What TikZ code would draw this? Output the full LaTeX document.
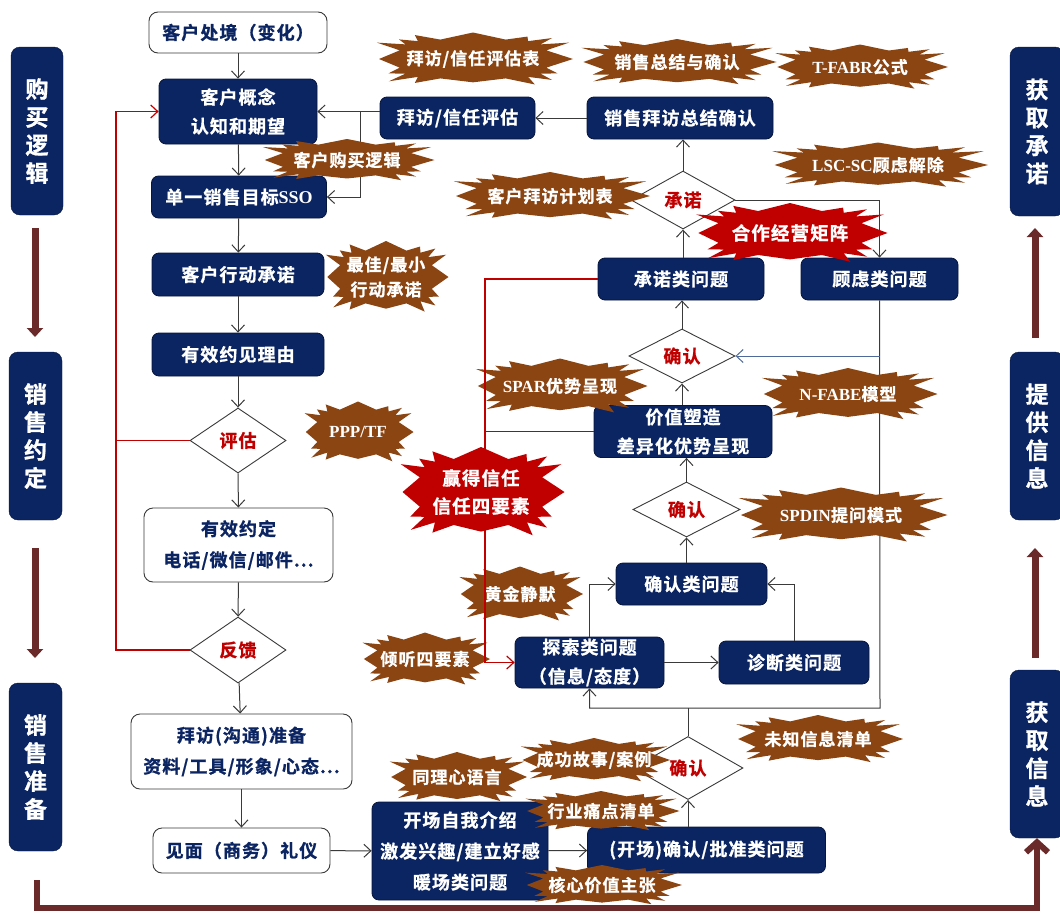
\documentclass[tikz,border=0pt]{standalone}
\usepackage{fontspec}
\setmainfont{Noto Sans CJK SC}[BoldFont={Noto Sans CJK SC Bold}, BoldFeatures={FakeBold=1, LetterSpace=6}]
\newfontfamily\lat{Liberation Serif}
\usetikzlibrary{shapes.geometric,arrows.meta}
\definecolor{navyc}{HTML}{0B2462}
\definecolor{brownc}{HTML}{8B4513}
\definecolor{redc}{HTML}{C00000}
\definecolor{darkr}{HTML}{6B2A2A}
\definecolor{linec}{HTML}{3A3A3A}
\definecolor{bluel}{HTML}{4F6A9A}
\tikzset{
  navybox/.style={draw=navyc!60!black, fill=navyc, rounded corners=7pt, text=white, align=center, inner sep=0pt, line width=0.8pt, font=\bfseries\fontsize{18}{29}\selectfont},
  whitebox/.style={draw=linec, fill=white, rounded corners=9pt, text=navyc, align=center, inner sep=0pt, line width=0.9pt, font=\bfseries\fontsize{18}{31}\selectfont},
  decide/.style={diamond, draw=linec, fill=white, text=redc, inner sep=0pt, line width=0.9pt, font=\bfseries\fontsize{18}{20}\selectfont},
  sidebar/.style={fill=navyc, draw=navyc!60!black, rounded corners=9pt, text=white, align=center, inner sep=0pt, font=\bfseries\fontsize{23}{28}\selectfont},
  bursttext/.style={text=white, align=center, inner sep=0pt, font=\bfseries\fontsize{17}{25}\selectfont},
  redbursttext/.style={bursttext, font=\bfseries\fontsize{18.5}{28}\selectfont},
  conn/.style={draw=linec, line width=1pt, -{Straight Barb[length=7pt,width=13pt]}},
  plain/.style={draw=linec, line width=1pt},
  redconn/.style={draw=redc, line width=1.2pt, -{Straight Barb[length=7pt,width=13pt]}},
  redline/.style={draw=redc, line width=1.2pt},
  blueconn/.style={draw=bluel, line width=1pt, -{Straight Barb[length=7pt,width=13pt]}},
  bigarrow/.style={draw=darkr, line width=7pt, -{Triangle[length=9pt,width=16pt]}},
}
% burst shape: centre (#1,#2), half sizes #3,#4, colour #5
\newcommand\burstfill[5]{%
  \begin{scope}[shift={(#1,#2)}]
  \fill[#5] (#3,0) \foreach \k [evaluate=\k as \ang using \k*11.25,
      evaluate=\k as \fac using {ifthenelse(mod(\k,2)==0, 1-0.06*mod(\k,3), 0.74)}] in {1,...,31}
      { -- ({#3*\fac*cos(\ang)/sqrt(abs(cos(\ang))+0.0001)}, {#4*\fac*sin(\ang)/sqrt(abs(sin(\ang))+0.0001)}) } -- cycle;
  \end{scope}}
\begin{document}
\begin{tikzpicture}[x=1pt,y=-1pt]
\useasboundingbox (0,0) rectangle (1060,913);
% side bars
\node[sidebar, minimum width=52, minimum height=168] (sL1) at (37,131) {购\\买\\逻\\辑};
\node[sidebar, minimum width=53, minimum height=168] (sL2) at (35.5,436) {销\\售\\约\\定};
\node[sidebar, minimum width=53, minimum height=168] (sL3) at (35.5,767) {销\\售\\准\\备};
\node[sidebar, minimum width=54, minimum height=169] (sR1) at (1037,131.5) {获\\取\\承\\诺};
\node[sidebar, minimum width=54, minimum height=168] (sR2) at (1037,436) {提\\供\\信\\息};
\node[sidebar, minimum width=54, minimum height=168] (sR3) at (1037,754) {获\\取\\信\\息};
\coordinate (aL1a) at (35,228); \coordinate (aL1b) at (35,337);
\coordinate (aL2a) at (35,548); \coordinate (aL2b) at (35,658);
\coordinate (aBa) at (37,880); \coordinate (aBb) at (37,908);
\coordinate (aR2a) at (1035,658); \coordinate (aR2b) at (1035,548);
\coordinate (aR1a) at (1035,338); \coordinate (aR1b) at (1035,228);
\draw[bigarrow] (aL1a) -- (aL1b);
\draw[bigarrow] (aL2a) -- (aL2b);
\draw[bigarrow] (aR2a) -- (aR2b);
\draw[bigarrow] (aR1a) -- (aR1b);
\draw[draw=darkr, line width=6pt, -{Straight Barb[length=10pt,width=22pt]}] (aBa) -- (aBb) -| (sR3.south);
% main column
\node[whitebox, minimum width=178, minimum height=41] (c0) at (238,32.5) {客户处境（变化）};
\node[navybox, minimum width=158, minimum height=65] (c1) at (238,111.5) {客户概念\\认知和期望};
\node[navybox, minimum width=175, minimum height=42] (c2) at (239,197) {单一销售目标{\lat\bfseries SSO}};
\node[navybox, minimum width=172, minimum height=43] (c3) at (238,274.5) {客户行动承诺};
\node[navybox, minimum width=172, minimum height=43] (c4) at (238,354.5) {有效约见理由};
\node[decide, minimum width=96, minimum height=65] (d1) at (238,440.5) {评估};
\node[whitebox, minimum width=189, minimum height=74] (c5) at (238.5,545) {有效约定\\电话/微信/邮件...};
\node[decide, minimum width=96, minimum height=66] (d2) at (238,650) {反馈};
\node[whitebox, minimum width=221, minimum height=75] (c6) at (241.5,751.5) {拜访(沟通)准备\\资料/工具/形象/心态...};
\node[whitebox, minimum width=177, minimum height=45] (c7) at (241.5,850.5) {见面（商务）礼仪};
% right part
\node[navybox, minimum width=155, minimum height=42] (v1) at (457.5,118) {拜访/信任评估};
\node[navybox, minimum width=186, minimum height=42] (s1) at (680,118) {销售拜访总结确认};
\node[decide, minimum width=104, minimum height=58] (d3) at (683,200) {承诺};
\node[navybox, minimum width=166, minimum height=42] (q1) at (681,279) {承诺类问题};
\node[navybox, minimum width=157, minimum height=42] (g1) at (879.5,279) {顾虑类问题};
\node[decide, minimum width=106, minimum height=52] (d4) at (682,356) {确认};
\node[navybox, minimum width=178, minimum height=52] (p1) at (683,431.5) {价值塑造\\差异化优势呈现};
\node[decide, minimum width=107, minimum height=55] (d5) at (686.5,509.5) {确认};
\node[navybox, minimum width=151, minimum height=42] (k1) at (691.5,584) {确认类问题};
\node[navybox, minimum width=149, minimum height=51] (t1) at (589.5,662.5) {探索类问题\\（信息/态度）};
\node[navybox, minimum width=150, minimum height=43] (z1) at (794,662.5) {诊断类问题};
\node[decide, minimum width=110, minimum height=63] (d6) at (688,768) {确认};
\node[navybox, minimum width=238, minimum height=46] (o2) at (706.5,850) {(开场)确认/批准类问题};
\node[navybox, minimum width=176, minimum height=98, font=\bfseries\fontsize{18}{31}\selectfont] (o1) at (460,851) {开场自我介绍\\激发兴趣/建立好感\\暖场类问题};
% black connectors
\draw[conn] (c0) -- (c1);
\draw[conn] (c1) -- (c2);
\draw[conn] (c2) -- (c3);
\draw[conn] (c3) -- (c4);
\draw[conn] (c4) -- (d1);
\draw[conn] (d1) -- (c5);
\draw[conn] (c5) -- (d2);
\draw[conn] (d2) -- (c6);
\draw[conn] (c6) -- (c7);
\draw[conn] (c7) -- (o1);
\draw[conn] (o1) -- (o2);
\draw[conn] (v1.west |- c1.east) -- (c1.east);
\coordinate (jn) at (360,111.5);
\draw[conn] (jn) |- (c2.east);
\draw[conn] (s1.west) -- (v1.east);
\draw[conn] (d3.north) -- (d3.north |- s1.south);
\draw[conn] (d3.east) -| (g1.north);
\draw[conn] (q1.north -| d3.south) -- (d3.south);
\draw[conn] (d4.north) -- (d4.north |- q1.south);
\draw[conn] (p1.north -| d4.south) -- (d4.south);
\draw[conn] (d5.north) -- (d5.north |- p1.south);
\draw[conn] (k1.north -| d5.south) -- (d5.south);
\draw[conn] (t1.north) |- (k1.west);
\draw[conn] (z1.north) |- (k1.east);
\draw[conn] (t1.east) -- (z1.west);
\coordinate (lp) at (880,708);
\draw[conn] (g1.south) -- (lp) -| (t1.south);
\draw[plain] (d6.north) -- (d6.north |- lp);
\draw[conn] (o2.north -| d6.south) -- (d6.south);
\draw[blueconn] (g1.south |- d4.east) -- (d4.east);
% brown bursts
\burstfill{473}{59}{100}{26.5}{brownc}
\node[bursttext] (b1) at (473,59) {拜访/信任评估表};
\burstfill{677}{62}{99.5}{23}{brownc}
\node[bursttext] (b2) at (677,62) {销售总结与确认};
\burstfill{860}{67}{88}{22.5}{brownc}
\node[bursttext] (b3) at (860,67) {{\lat\bfseries T-FABR}公式};
\burstfill{347}{160}{87.5}{21}{brownc}
\node[bursttext] (b4) at (347,160) {客户购买逻辑};
\burstfill{878}{165}{110}{22.5}{brownc}
\node[bursttext] (b5) at (878,165) {{\lat\bfseries LSC-SC}顾虑解除};
\burstfill{550}{196}{100}{24}{brownc}
\node[bursttext] (b6) at (550,196) {客户拜访计划表};
\burstfill{386}{277}{62.5}{36}{brownc}
\node[bursttext] (b8) at (386,277) {最佳/最小\\行动承诺};
\burstfill{560}{386}{87.5}{27.5}{brownc}
\node[bursttext] (b9) at (560,386) {{\lat\bfseries SPAR}优势呈现};
\burstfill{848}{394}{89.5}{26}{brownc}
\node[bursttext] (b10) at (848,394) {{\lat\bfseries N-FABE}模型};
\burstfill{358}{432}{55.5}{30.5}{brownc}
\node[bursttext] (b11) at (358,432) {{\lat\bfseries PPP/TF}};
\burstfill{841}{515}{106.5}{27.5}{brownc}
\node[bursttext] (b13) at (841,515) {{\lat\bfseries SPDIN}提问模式};
\burstfill{520}{594}{63}{27.5}{brownc}
\node[bursttext] (b14) at (520,594) {黄金静默};
\burstfill{425}{659}{65}{26.5}{brownc}
\node[bursttext] (b15) at (425,659) {倾听四要素};
\burstfill{818}{739}{85}{24}{brownc}
\node[bursttext] (b16) at (818,739) {未知信息清单};
\burstfill{594}{760}{76}{22}{brownc}
\node[bursttext] (b17) at (594,760) {成功故事/案例};
\burstfill{457}{777}{70}{25}{brownc}
\node[bursttext] (b18) at (457,777) {同理心语言};
\burstfill{601}{811}{78.5}{20}{brownc}
\node[bursttext] (b19) at (601,811) {行业痛点清单};
\burstfill{602}{885}{80}{20}{brownc}
\node[bursttext] (b20) at (602,885) {核心价值主张};
% red connectors
\coordinate (rl) at (116,111.5);
\draw[redline] (d1.west) -- (d1.west -| rl);
\draw[redconn] (d2.west) -| (rl) -- (c1.west);
\coordinate (rr) at (485,279);
\draw[redline] (p1.west) -- (p1.west -| rr);
\draw[redconn] (q1.west) -- (rr) |- (t1.west);
% red bursts
\burstfill{790}{233}{97.5}{30}{redc}
\node[redbursttext] (b7) at (790,233) {合作经营矩阵};
\burstfill{481}{492}{83.5}{45}{redc}
\node[redbursttext] (b12) at (481,492) {赢得信任\\信任四要素};
\end{tikzpicture}
\end{document}
